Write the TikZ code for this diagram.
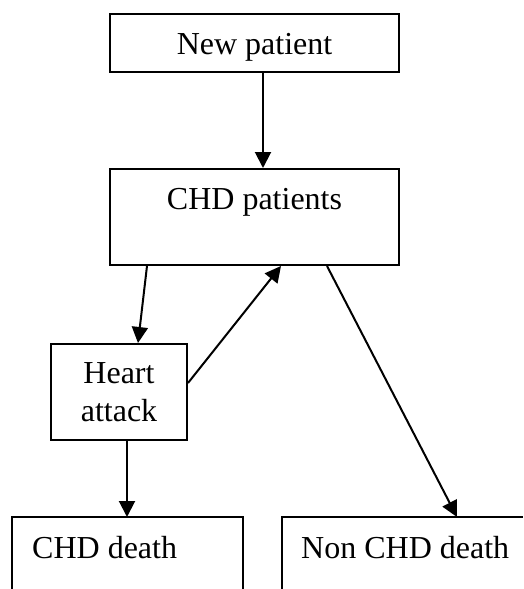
\documentclass[tikz,border=0pt]{standalone}
\usepackage{fontspec}
\setmainfont{Liberation Serif}
\usetikzlibrary{arrows.meta}
\begin{document}
\begin{tikzpicture}[x=1pt,y=-1pt,
  box/.style={draw,line width=2pt,inner sep=0pt,font=\fontsize{32}{38}\selectfont},
  flow/.style={line width=2pt,-{Triangle[length=16pt,width=16pt]}},
  open/.style={line width=2pt},
  lbl/.style={inner sep=0pt,font=\fontsize{32}{38}\selectfont}]
\useasboundingbox (0,0) rectangle (523,589);
% boxes
\node[box,minimum width=289pt,text height=40pt,text depth=18pt,anchor=north west] (np) at (109,13) {New patient};
\node[box,minimum width=289pt,text height=40pt,text depth=56pt,anchor=north west] (chd) at (109,168) {CHD patients};
\node[box,minimum width=136pt,minimum height=96pt,align=center,anchor=north west] (ha) at (50,343) {Heart\\attack};
% open boxes at the bottom
\node[minimum width=231pt,minimum height=72pt,inner sep=0pt,anchor=north west] (cd) at (12,517) {};
\node[minimum width=241pt,minimum height=72pt,inner sep=0pt,anchor=north west] (ncd) at (282,517) {};
\draw[open] (cd.south west) |- (cd.north east) -- (cd.south east);
\draw[open] (ncd.south west) |- (ncd.north east);
\node[lbl,anchor=base west] (cdt) at (32,558) {CHD death};
\node[lbl,anchor=base west] (ncdt) at (301,558) {Non CHD death};
% connectors
\draw[flow] (np.south -| 263,0) -- (chd.north -| 263,0);
\draw[flow] (chd.south -| 147,0) -- (ha.north -| 138,0);
\draw[flow] (ha.east |- 0,383) -- (chd.south -| 281,0);
\draw[flow] (ha.south -| 127,0) -- (cd.north -| 127,0);
\draw[flow] (chd.south -| 327,0) -- (ncd.north -| 457,0);
\end{tikzpicture}
\end{document}
